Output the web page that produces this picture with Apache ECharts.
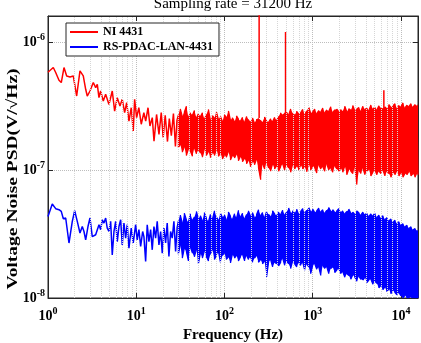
<!DOCTYPE html>
<html><head><meta charset="utf-8">
<script src="https://cdn.jsdelivr.net/npm/echarts@6/dist/echarts.min.js"></script>
<style>html,body{margin:0;padding:0;background:#fff}#c{width:421px;height:343px}</style>
</head><body><div id="c"></div>
<script>
// ---- data (PSD values in nV/sqrt(Hz), frequencies in Hz) ----
const titleText = 'Sampling rate = 31200 Hz';
const seriesNames = ['NI 4431', 'RS-PDAC-LAN-4431'];
const xAxisName = 'Frequency (Hz)';
const yAxisName = 'Voltage Noise PSD(V/\u221AHz)';
const xTickExps = [0, 1, 2, 3, 4];
const yTickExps = [-8, -7, -6];

const redLowFreq = [1.00, 1.148, 1.222, 1.332, 1.414, 1.518, 1.628, 1.775, 1.934, 2.006,
  2.113, 2.303, 2.510, 2.673, 2.786, 2.990, 3.26, 3.47, 3.62, 3.78,
  3.95, 4.23, 4.50, 4.91, 5.35, 5.69, 6.09, 6.54, 6.94, 7.39,
  7.79, 8.27, 8.78, 9.25, 9.59, 10.1, 10.7, 11.4, 12.2, 12.8,
  13.6, 14.3, 15.2, 15.9, 17.0, 18.1, 19.2, 20.2, 21.3, 22.6,
  23.7, 25.0, 26.4, 27.8, 29.0];
const redLowVal = [582, 633, 579, 503, 483, 633, 544, 534, 544, 529,
  379, 596, 544, 428, 379, 415, 483, 441, 468, 368,
  415, 346, 391, 326, 415, 289, 368, 317, 357, 281,
  337, 241, 307, 202, 357, 257, 307, 228, 281, 241,
  307, 221, 257, 168, 272, 190, 281, 180, 268, 167,
  253, 186, 277, 153, 249];
// narrow spectral lines: frequency, base and peak value
const redSpikeFreq = [247, 492, 6400];
const redSpikeBase = [255, 280, 300];
const redSpikeVal = [2000, 1200, 420];

const blueLowFreq = [1.000, 1.118, 1.222, 1.332, 1.414, 1.491, 1.587, 1.729, 1.885, 2.006,
  2.147, 2.303, 2.446, 2.557, 2.673, 2.838, 2.990, 3.175, 3.319, 3.469,
  3.617, 3.781, 3.953, 4.121, 4.307, 4.502, 4.694, 4.907, 5.130, 5.349,
  5.591, 5.845, 6.094, 6.371, 6.659, 6.943, 7.257, 7.586, 7.909, 8.267,
  8.778, 9.247, 9.845, 10.26, 10.73, 11.22, 11.82, 12.22, 12.78, 13.32,
  13.92, 14.56, 15.18, 15.87, 16.58, 17.29, 18.08, 18.90, 19.71, 20.59,
  21.53, 22.44, 23.46, 24.52, 25.57, 26.73, 27.94, 29.13];
const blueLowVal = [43.4, 54.3, 49.9, 49.0, 47.5, 41.6, 42.2, 26.9, 39.7, 48.1,
  39.7, 32.2, 36.2, 33.1, 28.5, 36.2, 42.2, 30.2, 29.4, 31.2,
  32.2, 37.4, 34.2, 40.9, 38.5, 42.2, 35.2, 33.1, 39.7, 21.7,
  33.1, 39.7, 27.6, 36.2, 40.9, 26.0, 38.5, 29.4, 37.4, 24.5,
  35.2, 26.9, 37.4, 28.5, 34.2, 25.3, 33.1, 30.2, 19.3, 37.4,
  27.6, 34.2, 23.8, 36.2, 29.4, 39.7, 26.0, 33.1, 22.4, 35.2,
  26.9, 38.5, 21.1, 33.1, 29.4, 39.7, 23.1, 36.2];

// dense part: per frequency column, the upper and lower extent of the trace
const bandFreq = [30.0, 31.6, 33.3, 35.1, 37.0, 39.0, 41.1, 43.3, 45.6, 48.1,
  50.6, 53.4, 56.2, 59.3, 62.4, 65.8, 69.3, 73.1, 77.0, 81.1,
  85.5, 90.1, 94.9, 100, 105, 111, 117, 123, 130, 137,
  144, 152, 160, 169, 178, 187, 197, 208, 219, 231,
  243, 257, 270, 285, 300, 316, 333, 351, 370, 390,
  411, 433, 456, 481, 506, 534, 562, 593, 624, 658,
  693, 731, 770, 811, 855, 901, 949, 1000, 1054, 1110,
  1170, 1233, 1299, 1369, 1442, 1520, 1601, 1687, 1778, 1874,
  1974, 2081, 2192, 2310, 2434, 2565, 2703, 2848, 3001, 3162,
  3332, 3511, 3700, 3899, 4108, 4329, 4562, 4807, 5065, 5337,
  5623, 5926, 6244, 6579, 6933, 7305, 7698, 8111, 8547, 9006,
  9490, 10000, 10537, 11103, 11699, 12328, 12990, 13687, 14422, 15197,
  15600];
const redHi = [270, 300, 262, 285, 315, 258, 280, 268, 292, 255,
  276, 262, 280, 250, 272, 298, 245, 266, 255, 285,
  248, 262, 240, 270, 258, 290, 244, 256, 238, 265,
  250, 242, 258, 236, 262, 248, 240, 255, 232, 250,
  255, 245, 238, 260, 242, 236, 252, 240, 258, 244,
  262, 280, 272, 280, 290, 270, 300, 278, 268, 288,
  275, 282, 298, 272, 290, 310, 278, 285, 300, 276,
  292, 284, 305, 280, 295, 288, 312, 282, 296, 300,
  286, 298, 290, 315, 286, 302, 294, 320, 290, 300,
  308, 288, 316, 298, 305, 292, 322, 300, 310, 296,
  318, 305, 300, 312, 300, 325, 308, 318, 330, 302,
  320, 312, 335, 306, 322, 315, 330, 310, 325, 318,
  328];
const redLo = [150, 158, 138, 152, 130, 146, 140, 128, 150, 134,
  144, 136, 126, 148, 130, 140, 125, 138, 130, 146,
  128, 136, 122, 132, 126, 140, 120, 130, 124, 134,
  118, 128, 116, 124, 112, 120, 106, 118, 110, 122,
  104, 84, 112, 102, 116, 104, 98, 112, 102, 108,
  98, 106, 112, 100, 110, 104, 96, 112, 102, 108,
  100, 110, 102, 106, 97, 112, 100, 108, 104, 95,
  110, 102, 106, 98, 112, 100, 104, 96, 108, 102,
  98, 104, 96, 108, 92, 102, 98, 94, 106, 77,
  100, 94, 104, 92, 98, 102, 90, 96, 100, 92,
  98, 94, 100, 90, 98, 94, 88, 96, 92, 100,
  90, 96, 88, 94, 92, 98, 90, 94, 88, 96,
  92];
const blueHi = [40.0, 44.5, 38.5, 46.0, 41.0, 39.0, 45.5, 40.5, 43.0, 47.5,
  41.5, 44.0, 40.0, 46.5, 42.0, 39.5, 45.0, 41.5, 48.0, 43.0,
  40.5, 46.0, 42.5, 44.5, 40.5, 47.0, 43.5, 41.0, 45.5, 42.0,
  48.5, 43.0, 46.0, 41.5, 45.0, 48.0, 43.5, 46.5, 42.0, 45.0,
  49.0, 44.0, 46.5, 42.5, 47.5, 45.0, 43.0, 48.0, 45.5, 44.0,
  47.0, 45.0, 48.5, 44.5, 47.0, 50.5, 45.5, 48.0, 46.0, 49.5,
  45.0, 47.5, 50.0, 46.0, 48.5, 51.0, 47.0, 49.5, 46.5, 48.0,
  50.5, 47.0, 49.0, 46.0, 48.5, 51.0, 47.5, 49.0, 46.5, 48.0,
  50.0, 47.0, 48.5, 45.5, 47.5, 49.5, 46.0, 47.0, 45.0, 48.0,
  46.5, 44.5, 47.0, 45.0, 46.0, 43.5, 45.5, 44.0, 46.0, 42.5,
  44.5, 42.0, 44.0, 41.0, 42.5, 40.0, 41.5, 39.0, 40.5, 38.0,
  39.5, 37.0, 38.0, 36.0, 37.0, 35.0, 36.0, 34.0, 35.0, 33.5,
  34.0];
const blueLo = [22.0, 26.0, 20.5, 24.5, 23.0, 19.5, 25.0, 22.5, 21.0, 24.0,
  18.5, 22.5, 20.5, 23.5, 21.0, 19.5, 22.0, 24.0, 20.0, 21.5,
  23.0, 19.0, 21.5, 22.5, 20.0, 21.0, 18.8, 22.0, 20.5, 21.5,
  19.5, 21.0, 22.0, 19.5, 21.5, 20.0, 21.0, 19.0, 20.5, 21.5,
  19.0, 20.0, 18.5, 19.5, 14.6, 19.0, 20.0, 17.5, 19.0, 18.5,
  17.8, 19.0, 20.5, 18.0, 19.5, 18.5, 17.0, 19.5, 18.5, 17.5,
  19.0, 18.0, 19.0, 16.5, 18.5, 17.5, 15.5, 18.0, 18.5, 16.8,
  17.5, 15.0, 18.0, 17.0, 17.5, 15.5, 17.0, 17.5, 15.8, 16.5,
  17.0, 15.5, 16.0, 14.5, 15.5, 15.0, 14.0, 15.2, 14.5, 13.5,
  14.8, 14.0, 13.8, 14.5, 13.2, 13.8, 14.0, 12.8, 13.5, 13.0,
  12.0, 12.5, 11.6, 12.2, 11.2, 11.8, 10.8, 11.5, 11.0, 10.6,
  11.0, 10.4, 10.0, 10.5, 10.0, 10.0, 10.2, 10.0, 10.0, 10.0,
  10.0];

// minor grid positions (log decade subdivisions)
const xMinor = [2,3,4,5,6,7,8,9,20,30,40,50,60,70,80,90,200,300,400,500,600,700,800,900,2000,3000,4000,5000,6000,7000,8000,9000];
const yMinor = [2e-8,3e-8,4e-8,5e-8,6e-8,7e-8,8e-8,9e-8,2e-7,3e-7,4e-7,5e-7,6e-7,7e-7,8e-7,9e-7];

// ---- build ----
const NV = 1e-9;
function lowTrace(lowF, lowV) { return lowF.map((f, i) => [f, lowV[i] * NV]); }
function bandTrace(lowF, lowV, hi, lo) {
  const n = lowF.length;
  const d = [[lowF[n - 1], lowV[n - 1] * NV]];
  bandFreq.forEach((f, i) => {
    const a = [f, hi[i] * NV], b = [f, lo[i] * NV];
    if (i % 2 === 0) d.push(a, b); else d.push(b, a);
  });
  return d;
}
function spikeTrace(fs, base, top) {
  const d = [];
  fs.forEach((f, i) => { d.push([f, base[i] * NV], [f, top[i] * NV], [f, '-']); });
  return d;
}
// solid fill between the upper and lower extent (drawn through the axes' scales)
function bandFill(hi, lo, color) {
  return {
    type: 'custom', z: 4,
    data: [[bandFreq[0], hi[0] * NV]],
    renderItem: function (params, api) {
      const pts = [];
      for (let i = 0; i < bandFreq.length; i++) pts.push(api.coord([bandFreq[i], hi[i] * NV]));
      for (let i = bandFreq.length - 1; i >= 0; i--) pts.push(api.coord([bandFreq[i], lo[i] * NV]));
      return { type: 'polygon', shape: { points: pts }, style: { fill: color } };
    }
  };
}

const FONT = "'Liberation Serif','Times New Roman',serif";
const AX = '#262626';
const RED = '#ff0000', BLUE = '#0000ff';
function expLabel(list) {
  return function (v) {
    const l = Math.log10(v), e = Math.round(l);
    if (Math.abs(l - e) > 1e-6 || list.indexOf(e) < 0) return '';
    return '{b|10}{s|' + e + '}';
  };
}
const rich = {
  b: { fontFamily: FONT, fontWeight: 'bold', fontSize: 14, lineHeight: 20, color: '#000' },
  s: { fontFamily: FONT, fontWeight: 'bold', fontSize: 10, lineHeight: 10, verticalAlign: 'top', color: '#000' }
};
const gridLine = { show: true, lineStyle: { type: 'dotted', color: '#bdbdbd', width: 1 } };
function lineS(name, data, color, width) {
  return { type: 'line', name: name, data: data, showSymbol: false, symbol: 'none', z: 3,
    lineStyle: { color: color, width: width }, itemStyle: { color: color } };
}

const chart = echarts.init(document.getElementById('c'), null, { renderer: 'canvas' });
chart.setOption({
  animation: false,
  backgroundColor: '#fff',
  title: {
    text: titleText, left: 233, top: -3, padding: 0, textAlign: 'center',
    textStyle: { fontFamily: FONT, fontWeight: 'normal', fontSize: 15, color: '#000' }
  },
  legend: {
    data: seriesNames, orient: 'vertical', left: 66, top: 23, z: 10,
    padding: [2, 6, 2, 4], itemGap: 1, itemWidth: 28, itemHeight: 2, icon: 'rect',
    borderColor: AX, borderWidth: 1, backgroundColor: '#fff',
    textStyle: { fontFamily: FONT, fontWeight: 'bold', fontSize: 12, color: '#000', lineHeight: 14 }
  },
  grid: { left: 48, right: 3, top: 16, bottom: 45, outerBoundsMode: 'none', containLabel: false, show: true, borderColor: AX, borderWidth: 1, backgroundColor: 'rgba(0,0,0,0)' },
  xAxis: [{
    type: 'log', logBase: 10, min: 1, max: 15600,
    axisLine: { show: true, onZero: false, lineStyle: { color: AX } },
    axisTick: { show: true, inside: true, length: 5, lineStyle: { color: AX } },
    axisLabel: { formatter: expLabel(xTickExps), rich: rich, margin: 8 },
    splitLine: gridLine,
    name: xAxisName, nameLocation: 'middle', nameGap: 29,
    nameTextStyle: { fontFamily: FONT, fontWeight: 'bold', fontSize: 15, color: '#000' }
  }, {
    type: 'log', logBase: 10, min: 1, max: 15600, position: 'top',
    axisLine: { show: true, onZero: false, lineStyle: { color: AX } },
    axisTick: { show: true, inside: true, length: 5, lineStyle: { color: AX } },
    axisLabel: { show: false }, splitLine: { show: false }
  }],
  yAxis: [{
    type: 'log', logBase: 10, min: 1e-8, max: 1.6e-6,
    axisLine: { show: true, onZero: false, lineStyle: { color: AX } },
    axisTick: { show: true, inside: true, length: 5, lineStyle: { color: AX } },
    axisLabel: { formatter: expLabel(yTickExps), rich: rich, margin: 3 },
    splitLine: gridLine
  }, {
    type: 'log', logBase: 10, min: 1e-8, max: 1.6e-6, position: 'right',
    axisLine: { show: true, onZero: false, lineStyle: { color: AX } },
    axisTick: { show: true, inside: true, length: 5, lineStyle: { color: AX } },
    axisLabel: { show: false }, splitLine: { show: false }
  }],
  series: [
  lineS(seriesNames[0], lowTrace(redLowFreq, redLowVal), RED, 1.5),
  lineS(seriesNames[0], bandTrace(redLowFreq, redLowVal, redHi, redLo), RED, 1.2),
  lineS(seriesNames[0], spikeTrace(redSpikeFreq, redSpikeBase, redSpikeVal), RED, 1.5),
  lineS(seriesNames[1], lowTrace(blueLowFreq, blueLowVal), BLUE, 1.5),
  lineS(seriesNames[1], bandTrace(blueLowFreq, blueLowVal, blueHi, blueLo), BLUE, 1.2),
  bandFill(redHi, redLo, RED),
  bandFill(blueHi, blueLo, BLUE),
  {
    type: 'line', data: [], z: 1, silent: true,
    markLine: {
      silent: true, symbol: 'none', label: { show: false },
      lineStyle: { type: 'dotted', color: '#d6d6d6', width: 1 },
      data: xMinor.map(v => ({ xAxis: v })).concat(yMinor.map(v => ({ yAxis: v })))
    }
  }]
});
// second pass: the custom band polygons get valid axis coordinates once the scales are settled
chart.setOption({
  graphic: [{
    type: 'text', x: 13, y: 179, rotation: Math.PI / 2, scaleX: 1.3, z: 10,
    style: { text: yAxisName, fontFamily: FONT, fontWeight: 'bold', fontSize: 15, fill: '#000', align: 'center', verticalAlign: 'middle' }
  }]
});
</script></body></html>
